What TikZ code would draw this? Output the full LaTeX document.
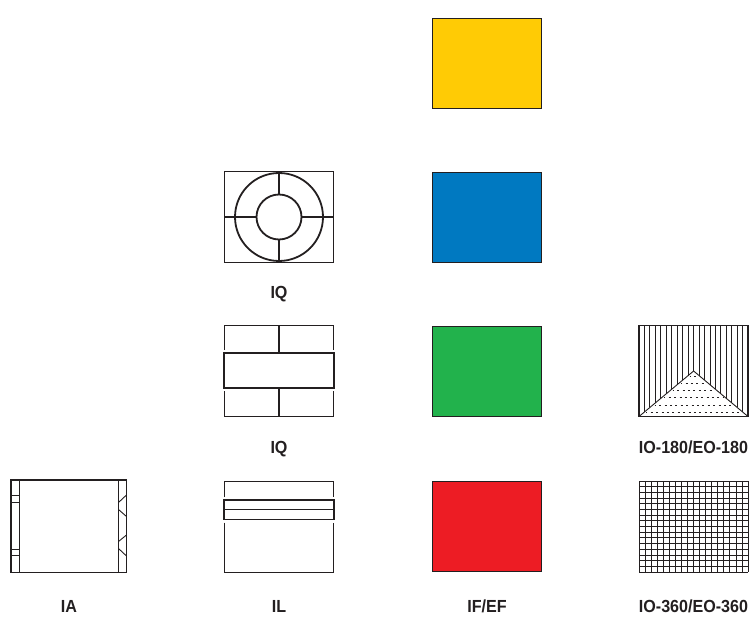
\documentclass[tikz,border=0pt]{standalone}
\usepackage{fontspec}
\setmainfont{Liberation Sans}[FakeStretch=0.92]
\definecolor{cy}{HTML}{FFCB05}
\definecolor{cb}{HTML}{0079C1}
\definecolor{cg}{HTML}{22B24C}
\definecolor{cr}{HTML}{ED1C24}
\definecolor{ink}{HTML}{231F20}
\tikzset{
  swatch/.style={draw=ink,line width=0.9pt},
  thin line/.style={draw=ink,line width=0.9pt},
  heavy line/.style={draw=ink,line width=1.8pt},
  lbl/.style={font=\bfseries\fontsize{17.5}{18}\selectfont,text=ink,inner sep=0pt,anchor=base}
}
\begin{document}
\begin{tikzpicture}[x=1pt,y=-1pt]
\useasboundingbox (0,0) rectangle (752,617);
% swatches
\path[swatch,fill=cy] (432.5,18) rectangle (541.5,108.5);
\path[swatch,fill=cb] (432.5,172) rectangle (541.5,262.5);
\path[swatch,fill=cg] (432.5,326) rectangle (541.5,416.5);
\path[swatch,fill=cr] (432.5,481) rectangle (541.5,571.5);
% IQ circles
\path[thin line] (224.5,171.5) rectangle (333.5,262);
\draw[heavy line] (279,217) circle (44) (279,217) circle (22.5);
\draw[heavy line] (279,171.5)--(279,194.5) (279,239.5)--(279,262)
  (224.5,217)--(256.5,217) (301.5,217)--(333.5,217);
% IQ box
\path[thin line] (224.5,350)--(224.5,325.5)--(333.5,325.5)--(333.5,350);
\path[thin line] (224.5,391)--(224.5,416.5)--(333.5,416.5)--(333.5,391);
\path[heavy line] (224,353) rectangle (334,388);
\draw[heavy line] (279,325.5)--(279,353) (279,388)--(279,416.5);
% IL
\path[thin line] (224.5,497)--(224.5,481)--(333.5,481)--(333.5,497);
\path[thin line] (224.5,522.5)--(224.5,572)--(333.5,572)--(333.5,522.5);
\path[heavy line] (224,500) rectangle (334,519.5);
\draw[heavy line] (224,509.5)--(334,509.5);
% IA
\draw[heavy line] (11,480) rectangle (126.5,572.5);
\draw[thin line] (19,480)--(19,572.5) (118.5,480)--(118.5,572.5);
\draw[thin line] (11,495.5)--(19,495.5) (11,502.5)--(19,502.5)
  (11,549)--(19,549) (11,555.5)--(19,555.5);
\draw[thin line] (126.5,495)--(118.5,502.5) (118.5,509.5)--(126.5,516.5)
  (126.5,535)--(118.5,541.5) (118.5,548.5)--(126.5,556);
% IO-180
\foreach \i in {1,...,19}{
  \pgfmathsetmacro{\xx}{639+\i*5.46}
  \pgfmathsetmacro{\yy}{416.5-45.5*(1-abs(\xx-693.6)/54.6)}
  \draw[ink,line width=0.9pt] (\xx,325.5)--(\xx,\yy);
}
\path[thin line,line width=1.1pt] (639,325.5)--(748,325.5)--(748,416.5)--(639,416.5)--cycle;
\path[thin line] (639,416.5)--(693.6,371)--(748,416.5);
\foreach \yy in {376.5,383.5,390.5,397.5,405.5,412.5}{
  \pgfmathsetmacro{\hw}{(\yy-371)*1.2-2.5}
  \draw[ink,line width=1.8pt,dash pattern=on 2pt off 3.4pt,dash phase=1pt]
    ({693.6-\hw},\yy)--({693.6+\hw},\yy);
}
% IO-360
\foreach \i in {0,...,18}{\draw[ink,line width=0.9pt] ({639+\i*6.06},481)--({639+\i*6.06},572);}
\foreach \i in {0,...,16}{\draw[ink,line width=0.9pt] (639,{481+\i*5.69})--(748,{481+\i*5.69});}
% labels
\node[lbl] (lq1) at (279,298.5) {IQ};
\node[lbl] (lq2) at (279,453.5) {IQ};
\node[lbl] (la) at (69,612.5) {IA};
\node[lbl] (ll) at (279,612.5) {IL};
\node[lbl] (lf) at (487,612.5) {IF/EF};
\node[lbl] (l360) at (693.5,612.5) {IO-360/EO-360};
\node[lbl] (l180) at (693.5,453.5) {IO-180/EO-180};
\end{tikzpicture}
\end{document}
